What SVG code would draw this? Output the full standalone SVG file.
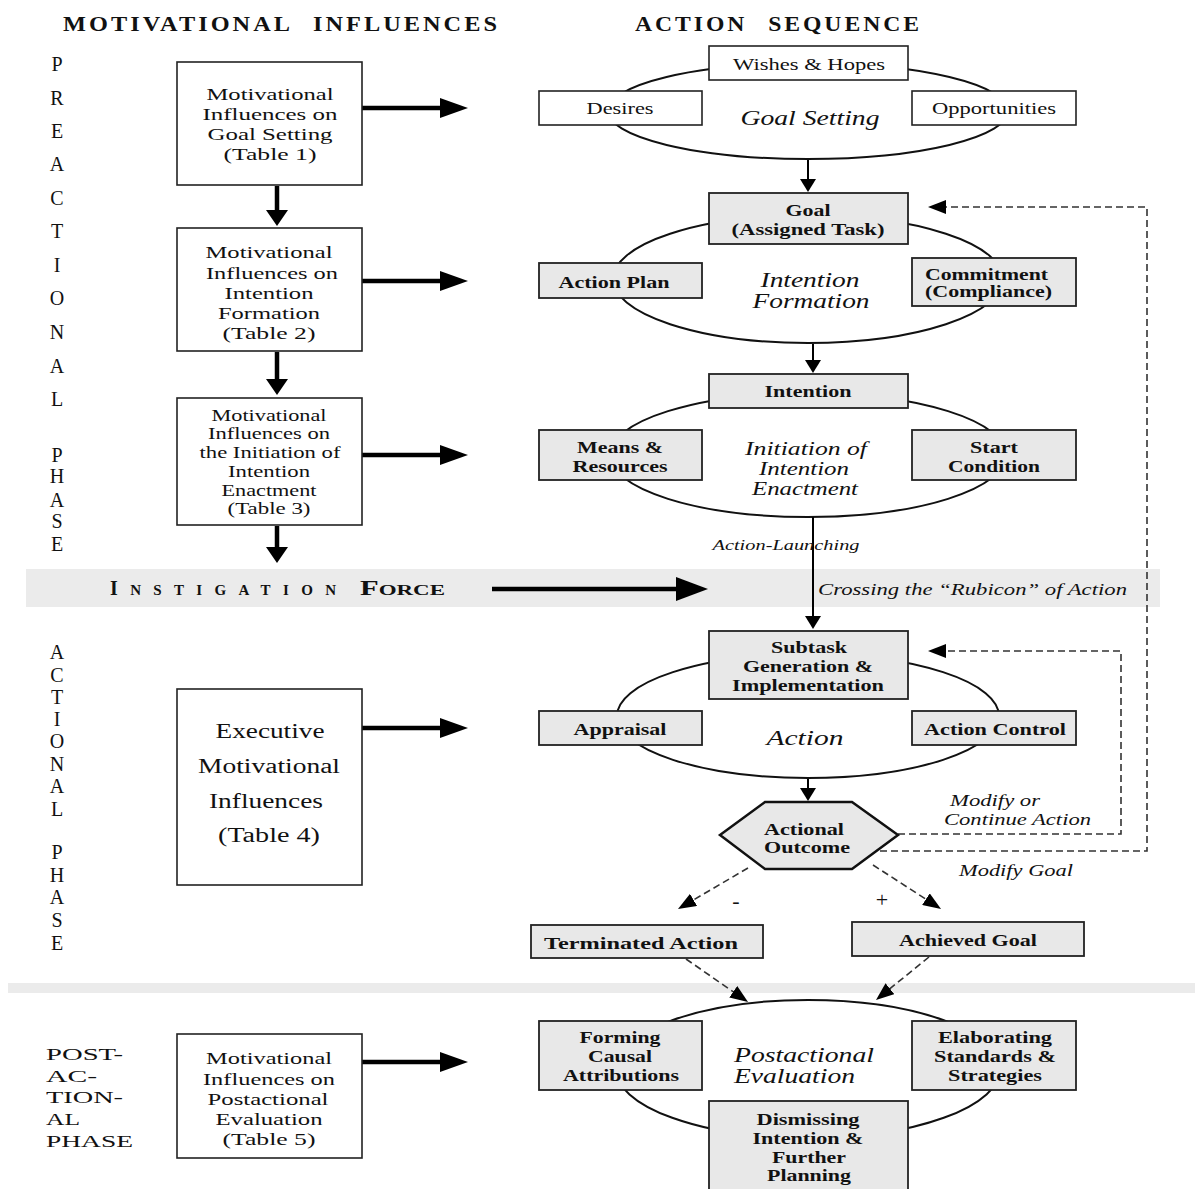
<svg xmlns="http://www.w3.org/2000/svg" width="1195" height="1189" viewBox="0 0 1195 1189">
<style>
.t{font-family:"Liberation Serif","Times New Roman",serif;fill:#111}
.m{text-anchor:middle}
.r{font-size:17.5px}
.b{font-weight:bold;font-size:16.5px}
.n{font-size:16.5px}
.i{font-style:italic}
.h{font-weight:bold;font-size:20px;letter-spacing:2.5px;word-spacing:10px}
.ph{font-size:20px;text-anchor:middle}
.box{fill:#fff;stroke:#222;stroke-width:1.6}
.gbox{fill:#e8e8e8;stroke:#222;stroke-width:1.8}
.ell{fill:#fff;stroke:#111;stroke-width:2}
.thick{stroke:#000;stroke-width:4.5;fill:none}
.thin{stroke:#000;stroke-width:2;fill:none}
.dash{stroke:#333;stroke-width:1.6;stroke-dasharray:7 4;fill:none}
.band{fill:#ebebeb}
</style>
<defs>
<marker id="mBig" markerUnits="userSpaceOnUse" markerWidth="28" markerHeight="20" refX="2" refY="10" orient="auto"><path d="M0,0 L28,10 L0,20 z" fill="#000"/></marker>
<marker id="mDown" markerUnits="userSpaceOnUse" markerWidth="16" markerHeight="22" refX="2" refY="11" orient="auto"><path d="M0,0 L16,11 L0,22 z" fill="#000"/></marker>
<marker id="mSm" markerUnits="userSpaceOnUse" markerWidth="13" markerHeight="16" refX="2" refY="8" orient="auto"><path d="M0,0 L13,8 L0,16 z" fill="#000"/></marker>
<marker id="mDash" markerUnits="userSpaceOnUse" markerWidth="18" markerHeight="14" refX="2" refY="7" orient="auto"><path d="M0,0 L18,7 L0,14 z" fill="#000"/></marker>
<marker id="mIns" markerUnits="userSpaceOnUse" markerWidth="32" markerHeight="24" refX="2" refY="12" orient="auto"><path d="M0,0 L32,12 L0,24 z" fill="#000"/></marker>
</defs>
<rect width="1195" height="1189" fill="#fff"/>

<g id="bands">
<rect class="band" x="26" y="569" width="1134" height="38"/>
<rect class="band" x="8" y="983" width="1187" height="10"/>
</g>

<g id="headers">
<text class="t h" x="63" y="31" textLength="437" lengthAdjust="spacingAndGlyphs">MOTIVATIONAL INFLUENCES</text>
<text class="t h" x="635" y="31" textLength="287" lengthAdjust="spacingAndGlyphs">ACTION SEQUENCE</text>
</g>

<g id="phase-labels">
<text class="t ph" x="57" y="71">P</text>
<text class="t ph" x="57" y="105">R</text>
<text class="t ph" x="57" y="138">E</text>
<text class="t ph" x="57" y="171">A</text>
<text class="t ph" x="57" y="205">C</text>
<text class="t ph" x="57" y="238">T</text>
<text class="t ph" x="57" y="272">I</text>
<text class="t ph" x="57" y="305">O</text>
<text class="t ph" x="57" y="339">N</text>
<text class="t ph" x="57" y="373">A</text>
<text class="t ph" x="57" y="406">L</text>
<text class="t ph" x="57" y="462">P</text>
<text class="t ph" x="57" y="483">H</text>
<text class="t ph" x="57" y="507">A</text>
<text class="t ph" x="57" y="528">S</text>
<text class="t ph" x="57" y="551">E</text>

<text class="t ph" x="57" y="659">A</text>
<text class="t ph" x="57" y="682">C</text>
<text class="t ph" x="57" y="704">T</text>
<text class="t ph" x="57" y="726">I</text>
<text class="t ph" x="57" y="748">O</text>
<text class="t ph" x="57" y="771">N</text>
<text class="t ph" x="57" y="793">A</text>
<text class="t ph" x="57" y="816">L</text>
<text class="t ph" x="57" y="859">P</text>
<text class="t ph" x="57" y="882">H</text>
<text class="t ph" x="57" y="904">A</text>
<text class="t ph" x="57" y="927">S</text>
<text class="t ph" x="57" y="950">E</text>

<text class="t r" x="46" y="1060" textLength="77" lengthAdjust="spacingAndGlyphs">POST-</text>
<text class="t r" x="46" y="1082" textLength="51" lengthAdjust="spacingAndGlyphs">AC-</text>
<text class="t r" x="46" y="1103" textLength="77" lengthAdjust="spacingAndGlyphs">TION-</text>
<text class="t r" x="46" y="1125" textLength="34" lengthAdjust="spacingAndGlyphs">AL</text>
<text class="t r" x="46" y="1147" textLength="87" lengthAdjust="spacingAndGlyphs">PHASE</text>
</g>

<g id="instigation-force">
<text class="t" x="110" y="595" font-weight="bold" textLength="226" lengthAdjust="spacing"><tspan font-size="20">I</tspan><tspan font-size="15">NSTIGATION</tspan></text>
<text class="t" x="360" y="595" font-weight="bold" textLength="85" lengthAdjust="spacingAndGlyphs"><tspan font-size="20">F</tspan><tspan font-size="15">ORCE</tspan></text>
</g>

<g id="ellipses">
<ellipse class="ell" cx="808" cy="111" rx="200" ry="48"/>
<ellipse class="ell" cx="808" cy="279" rx="195" ry="64"/>
<ellipse class="ell" cx="808" cy="455" rx="198" ry="62"/>
<ellipse class="ell" cx="808" cy="716" rx="191" ry="62"/>
<ellipse class="ell" cx="808" cy="1069" rx="192" ry="69"/>
</g>

<g id="connectors">
<line class="thick" x1="362" y1="108" x2="442" y2="108" marker-end="url(#mBig)"/>
<line class="thick" x1="362" y1="281" x2="442" y2="281" marker-end="url(#mBig)"/>
<line class="thick" x1="362" y1="455" x2="442" y2="455" marker-end="url(#mBig)"/>
<line class="thick" x1="362" y1="728" x2="442" y2="728" marker-end="url(#mBig)"/>
<line class="thick" x1="362" y1="1062" x2="442" y2="1062" marker-end="url(#mBig)"/>
<line class="thick" x1="277" y1="186" x2="277" y2="212" marker-end="url(#mDown)"/>
<line class="thick" x1="277" y1="352" x2="277" y2="381" marker-end="url(#mDown)"/>
<line class="thick" x1="277" y1="526" x2="277" y2="549" marker-end="url(#mDown)"/>
<line class="thick" x1="492" y1="589" x2="678" y2="589" marker-end="url(#mIns)"/>
<line class="thin" x1="808" y1="160" x2="808" y2="181" marker-end="url(#mSm)"/>
<line class="thin" x1="813" y1="344" x2="813" y2="362" marker-end="url(#mSm)"/>
<line class="thin" x1="813" y1="517" x2="813" y2="618" marker-end="url(#mSm)"/>
<line class="thin" x1="808" y1="779" x2="808" y2="790" marker-end="url(#mSm)"/>
<path class="dash" d="M880,851 H1147 V207 H944" marker-end="url(#mDash)"/>
<path class="dash" d="M898,834 H1121 V651 H944" marker-end="url(#mDash)"/>
<line class="dash" x1="748" y1="868" x2="691.8" y2="900.9" marker-end="url(#mDash)"/>
<line class="dash" x1="873" y1="865" x2="927.6" y2="900.3" marker-end="url(#mDash)"/>
<line class="dash" x1="686" y1="959" x2="734.9" y2="992.9" marker-end="url(#mDash)"/>
<line class="dash" x1="929" y1="957" x2="888.4" y2="989.9" marker-end="url(#mDash)"/>
</g>

<g id="mi-goal-setting">
<rect class="box" x="177" y="62" width="185" height="123"/>
<text class="t r m" x="270" y="100" textLength="127" lengthAdjust="spacingAndGlyphs">Motivational</text>
<text class="t r m" x="270" y="120" textLength="135" lengthAdjust="spacingAndGlyphs">Influences on</text>
<text class="t r m" x="270" y="140" textLength="125" lengthAdjust="spacingAndGlyphs">Goal Setting</text>
<text class="t r m" x="270" y="160" textLength="93" lengthAdjust="spacingAndGlyphs">(Table 1)</text>
</g>
<g id="mi-intention-formation">
<rect class="box" x="177" y="228" width="185" height="123"/>
<text class="t r m" x="269" y="258" textLength="127" lengthAdjust="spacingAndGlyphs">Motivational</text>
<text class="t r m" x="272" y="279" textLength="132" lengthAdjust="spacingAndGlyphs">Influences on</text>
<text class="t r m" x="269" y="299" textLength="89" lengthAdjust="spacingAndGlyphs">Intention</text>
<text class="t r m" x="269" y="319" textLength="102" lengthAdjust="spacingAndGlyphs">Formation</text>
<text class="t r m" x="269" y="339" textLength="93" lengthAdjust="spacingAndGlyphs">(Table 2)</text>
</g>
<g id="mi-initiation">
<rect class="box" x="177" y="398" width="185" height="127"/>
<text class="t n m" x="269" y="421" textLength="115" lengthAdjust="spacingAndGlyphs">Motivational</text>
<text class="t n m" x="269" y="439" textLength="122" lengthAdjust="spacingAndGlyphs">Influences on</text>
<text class="t n m" x="270" y="458" textLength="141" lengthAdjust="spacingAndGlyphs">the Initiation of</text>
<text class="t n m" x="269" y="477" textLength="82" lengthAdjust="spacingAndGlyphs">Intention</text>
<text class="t n m" x="269" y="496" textLength="95" lengthAdjust="spacingAndGlyphs">Enactment</text>
<text class="t n m" x="269" y="514" textLength="83" lengthAdjust="spacingAndGlyphs">(Table 3)</text>
</g>
<g id="mi-executive">
<rect class="box" x="177" y="689" width="185" height="196"/>
<text class="t m" font-size="20" x="270" y="738" textLength="109" lengthAdjust="spacingAndGlyphs">Executive</text>
<text class="t m" font-size="20" x="269" y="773" textLength="142" lengthAdjust="spacingAndGlyphs">Motivational</text>
<text class="t m" font-size="20" x="266" y="808" textLength="114" lengthAdjust="spacingAndGlyphs">Influences</text>
<text class="t m" font-size="20" x="269" y="842" textLength="102" lengthAdjust="spacingAndGlyphs">(Table 4)</text>
</g>
<g id="mi-postactional">
<rect class="box" x="177" y="1034" width="185" height="124"/>
<text class="t r m" x="269" y="1064" textLength="126" lengthAdjust="spacingAndGlyphs">Motivational</text>
<text class="t r m" x="269" y="1085" textLength="132" lengthAdjust="spacingAndGlyphs">Influences on</text>
<text class="t r m" x="268" y="1105" textLength="121" lengthAdjust="spacingAndGlyphs">Postactional</text>
<text class="t r m" x="269" y="1125" textLength="107" lengthAdjust="spacingAndGlyphs">Evaluation</text>
<text class="t r m" x="269" y="1145" textLength="93" lengthAdjust="spacingAndGlyphs">(Table 5)</text>
</g>

<g id="goal-setting">
<text class="t i m" font-size="21" x="810" y="125" textLength="139" lengthAdjust="spacingAndGlyphs">Goal Setting</text>
</g>
<g id="wishes-hopes">
<rect class="box" x="709" y="46" width="199" height="34"/>
<text class="t n m" x="809" y="70" textLength="152" lengthAdjust="spacingAndGlyphs">Wishes &amp; Hopes</text>
</g>
<g id="desires">
<rect class="box" x="539" y="91" width="163" height="34"/>
<text class="t n m" x="620" y="114" textLength="67" lengthAdjust="spacingAndGlyphs">Desires</text>
</g>
<g id="opportunities">
<rect class="box" x="912" y="91" width="164" height="34"/>
<text class="t n m" x="994" y="114" textLength="124" lengthAdjust="spacingAndGlyphs">Opportunities</text>
</g>

<g id="intention-formation">
<text class="t i m" font-size="20" x="810" y="287" textLength="99" lengthAdjust="spacingAndGlyphs">Intention</text>
<text class="t i m" font-size="20" x="811" y="308" textLength="117" lengthAdjust="spacingAndGlyphs">Formation</text>
</g>
<g id="goal">
<rect class="gbox" x="709" y="193" width="199" height="51"/>
<text class="t b m" x="808" y="216" textLength="45" lengthAdjust="spacingAndGlyphs">Goal</text>
<text class="t b m" x="808" y="235" textLength="153" lengthAdjust="spacingAndGlyphs">(Assigned Task)</text>
</g>
<g id="action-plan">
<rect class="gbox" x="539" y="263" width="163" height="35"/>
<text class="t b m" x="614" y="288" textLength="111" lengthAdjust="spacingAndGlyphs">Action Plan</text>
</g>
<g id="commitment">
<rect class="gbox" x="912" y="258" width="164" height="48"/>
<text class="t b" x="925" y="280" textLength="123" lengthAdjust="spacingAndGlyphs">Commitment</text>
<text class="t b" x="925" y="297" textLength="127" lengthAdjust="spacingAndGlyphs">(Compliance)</text>
</g>

<g id="initiation">
<text class="t i m" font-size="19" x="806" y="455" textLength="122" lengthAdjust="spacingAndGlyphs">Initiation of</text>
<text class="t i m" font-size="19" x="804" y="475" textLength="90" lengthAdjust="spacingAndGlyphs">Intention</text>
<text class="t i m" font-size="19" x="805" y="495" textLength="106" lengthAdjust="spacingAndGlyphs">Enactment</text>
</g>
<g id="intention">
<rect class="gbox" x="709" y="374" width="199" height="34"/>
<text class="t b m" x="808" y="397" textLength="87" lengthAdjust="spacingAndGlyphs">Intention</text>
</g>
<g id="means-resources">
<rect class="gbox" x="539" y="430" width="163" height="50"/>
<text class="t b m" x="620" y="453" textLength="86" lengthAdjust="spacingAndGlyphs">Means &amp;</text>
<text class="t b m" x="620" y="472" textLength="95" lengthAdjust="spacingAndGlyphs">Resources</text>
</g>
<g id="start-condition">
<rect class="gbox" x="912" y="430" width="164" height="50"/>
<text class="t b m" x="994" y="453" textLength="48" lengthAdjust="spacingAndGlyphs">Start</text>
<text class="t b m" x="994" y="472" textLength="92" lengthAdjust="spacingAndGlyphs">Condition</text>
</g>

<g id="labels">
<text class="t i m" font-size="14" x="786" y="550" textLength="147" lengthAdjust="spacingAndGlyphs">Action-Launching</text>
<text class="t i" font-size="17" x="818" y="595" textLength="309" lengthAdjust="spacingAndGlyphs">Crossing the “Rubicon” of Action</text>
<text class="t i" font-size="16" x="950" y="806" textLength="90" lengthAdjust="spacingAndGlyphs">Modify or</text>
<text class="t i" font-size="16" x="944" y="825" textLength="147" lengthAdjust="spacingAndGlyphs">Continue Action</text>
<text class="t i" font-size="16" x="959" y="876" textLength="114" lengthAdjust="spacingAndGlyphs">Modify Goal</text>
<text class="t m" font-size="22" x="736" y="908">-</text>
<text class="t m" font-size="22" x="882" y="907">+</text>
</g>

<g id="action">
<text class="t i m" font-size="21" x="805" y="745" textLength="77" lengthAdjust="spacingAndGlyphs">Action</text>
</g>
<g id="subtask">
<rect class="gbox" x="709" y="631" width="199" height="68"/>
<text class="t b m" x="809" y="653" textLength="76" lengthAdjust="spacingAndGlyphs">Subtask</text>
<text class="t b m" x="808" y="672" textLength="130" lengthAdjust="spacingAndGlyphs">Generation &amp;</text>
<text class="t b m" x="808" y="691" textLength="152" lengthAdjust="spacingAndGlyphs">Implementation</text>
</g>
<g id="appraisal">
<rect class="gbox" x="539" y="711" width="163" height="34"/>
<text class="t b m" x="620" y="735" textLength="93" lengthAdjust="spacingAndGlyphs">Appraisal</text>
</g>
<g id="action-control">
<rect class="gbox" x="912" y="711" width="164" height="34"/>
<text class="t b m" x="995" y="735" textLength="142" lengthAdjust="spacingAndGlyphs">Action Control</text>
</g>
<g id="actional-outcome">
<polygon points="720,835 765,802 852,802 898,835 852,869 765,869" fill="#e8e8e8" stroke="#111" stroke-width="2.5"/>
<text class="t b m" x="804" y="835" textLength="80" lengthAdjust="spacingAndGlyphs">Actional</text>
<text class="t b m" x="807" y="853" textLength="86" lengthAdjust="spacingAndGlyphs">Outcome</text>
</g>
<g id="terminated-action">
<rect class="gbox" x="531" y="925" width="232" height="33"/>
<text class="t b m" x="641" y="949" textLength="194" lengthAdjust="spacingAndGlyphs">Terminated Action</text>
</g>
<g id="achieved-goal">
<rect class="gbox" x="852" y="922" width="232" height="34"/>
<text class="t b m" x="968" y="946" textLength="138" lengthAdjust="spacingAndGlyphs">Achieved Goal</text>
</g>

<g id="postactional-evaluation">
<text class="t i" font-size="20" x="734" y="1062" textLength="140" lengthAdjust="spacingAndGlyphs">Postactional</text>
<text class="t i" font-size="20" x="734" y="1083" textLength="121" lengthAdjust="spacingAndGlyphs">Evaluation</text>
</g>
<g id="forming-causal">
<rect class="gbox" x="539" y="1021" width="163" height="69"/>
<text class="t b m" x="620" y="1043" textLength="81" lengthAdjust="spacingAndGlyphs">Forming</text>
<text class="t b m" x="620" y="1062" textLength="64" lengthAdjust="spacingAndGlyphs">Causal</text>
<text class="t b m" x="621" y="1081" textLength="116" lengthAdjust="spacingAndGlyphs">Attributions</text>
</g>
<g id="elaborating">
<rect class="gbox" x="912" y="1021" width="164" height="69"/>
<text class="t b m" x="995" y="1043" textLength="114" lengthAdjust="spacingAndGlyphs">Elaborating</text>
<text class="t b m" x="995" y="1062" textLength="122" lengthAdjust="spacingAndGlyphs">Standards &amp;</text>
<text class="t b m" x="995" y="1081" textLength="94" lengthAdjust="spacingAndGlyphs">Strategies</text>
</g>
<g id="dismissing">
<rect class="gbox" x="709" y="1101" width="199" height="95"/>
<text class="t b m" x="808" y="1125" textLength="103" lengthAdjust="spacingAndGlyphs">Dismissing</text>
<text class="t b m" x="808" y="1144" textLength="111" lengthAdjust="spacingAndGlyphs">Intention &amp;</text>
<text class="t b m" x="809" y="1163" textLength="74" lengthAdjust="spacingAndGlyphs">Further</text>
<text class="t b m" x="809" y="1181" textLength="84" lengthAdjust="spacingAndGlyphs">Planning</text>
</g>
</svg>
